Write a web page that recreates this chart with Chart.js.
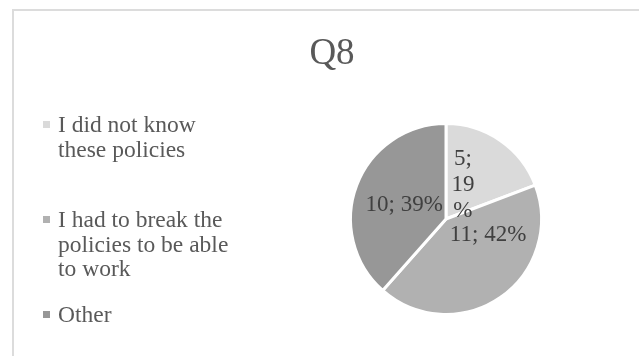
<!DOCTYPE html>
<html>
<head>
<meta charset="utf-8">
<script src="https://cdn.jsdelivr.net/npm/chart.js@4.4.0/dist/chart.umd.min.js"></script>
<style>
  html, body { margin: 0; padding: 0; background: #ffffff; }
  #wrap { position: relative; width: 639px; height: 356px; overflow: hidden; }
  #frame {
    position: absolute; left: 12px; top: 9px; width: 700px; height: 400px;
    border-left: 2px solid #dcdcdc; border-top: 2px solid #dcdcdc;
  }
  #q8 { position: absolute; left: 0; top: 0; }
</style>
</head>
<body>
<div id="wrap">
  <div id="frame"></div>
  <canvas id="q8" width="639" height="356"></canvas>
</div>
<script>
// answers to Q8
const answers = [
  'I did not know these policies',
  'I had to break the policies to be able to work',
  'Other'
];
const counts = [5, 11, 10];
const chartTitle = 'Q8';

const sliceColors = ['#DADADA', '#B1B1B1', '#979797'];
const serif = '"Liberation Serif", "Times New Roman", serif';

// where each value label sits inside its slice:
// t = share of the slice's sweep, r = share of the radius, w = wrap width
const labelSpots = [
  { t: 0.38, r: 0.40, w: 30 },
  { t: 0.27, r: 0.47, w: 160 },
  { t: 0.48, r: 0.46, w: 160 }
];

// whole percentages that still add up to 100 (largest remainder)
function wholePercents(values) {
  const total = values.reduce(function (a, b) { return a + b; }, 0);
  const raw = values.map(function (v) { return v / total * 100; });
  const out = raw.map(Math.floor);
  let left = 100 - out.reduce(function (a, b) { return a + b; }, 0);
  raw.map(function (r, i) { return { i: i, rem: r - Math.floor(r) }; })
    .sort(function (a, b) { return b.rem - a.rem; })
    .forEach(function (o) { if (left > 0) { out[o.i] += 1; left -= 1; } });
  return out;
}

// break text into lines no wider than maxWidth (splits long words too)
function wrapText(ctx, text, maxWidth) {
  const words = text.split(' ');
  const lines = [];
  let line = '';
  words.forEach(function (word) {
    const test = line ? line + ' ' + word : word;
    if (ctx.measureText(test).width <= maxWidth) {
      line = test;
      return;
    }
    if (line) lines.push(line);
    line = '';
    let piece = '';
    for (const ch of word) {
      if (piece && ctx.measureText(piece + ch).width > maxWidth) {
        lines.push(piece);
        piece = ch;
      } else {
        piece += ch;
      }
    }
    line = piece;
  });
  if (line) lines.push(line);
  return lines;
}

const titlePlugin = {
  id: 'q8Title',
  afterDraw(chart) {
    const ctx = chart.ctx;
    ctx.save();
    ctx.font = '37px ' + serif;
    ctx.fillStyle = '#595959';
    ctx.textAlign = 'center';
    ctx.textBaseline = 'alphabetic';
    ctx.fillText(chartTitle, 332, 64);
    ctx.restore();
  }
};

const sideLegend = {
  id: 'sideLegend',
  afterDraw(chart) {
    const ctx = chart.ctx;
    const ds = chart.data.datasets[0];
    ctx.save();
    ctx.font = '23.5px ' + serif;
    ctx.textBaseline = 'alphabetic';
    chart.data.labels.forEach(function (label, i) {
      const baseY = 132 + i * 95;
      ctx.fillStyle = ds.backgroundColor[i];
      ctx.fillRect(43, baseY - 11, 7, 7);
      ctx.fillStyle = '#595959';
      wrapText(ctx, label, 175).forEach(function (ln, j) {
        ctx.fillText(ln, 58, baseY + j * 24.5);
      });
    });
    ctx.restore();
  }
};

const sliceLabels = {
  id: 'sliceLabels',
  afterDatasetsDraw(chart) {
    const ctx = chart.ctx;
    const meta = chart.getDatasetMeta(0);
    const values = chart.data.datasets[0].data;
    const pcts = wholePercents(values);
    ctx.save();
    ctx.font = '23px ' + serif;
    ctx.fillStyle = '#404040';
    ctx.textAlign = 'center';
    ctx.textBaseline = 'middle';
    meta.data.forEach(function (arc, i) {
      const p = arc.getProps(['x', 'y', 'startAngle', 'endAngle', 'outerRadius'], true);
      const spot = labelSpots[i];
      const ang = p.startAngle + spot.t * (p.endAngle - p.startAngle);
      const cx = p.x + Math.cos(ang) * p.outerRadius * spot.r;
      const cy = p.y + Math.sin(ang) * p.outerRadius * spot.r;
      const text = values[i] + '; ' + pcts[i] + '%';
      const lines = wrapText(ctx, text, spot.w);
      const lh = 26;
      lines.forEach(function (ln, j) {
        ctx.fillText(ln, cx, cy + (j - (lines.length - 1) / 2) * lh);
      });
    });
    ctx.restore();
  }
};

new Chart(document.getElementById('q8'), {
  type: 'pie',
  data: {
    labels: answers,
    datasets: [{
      data: counts,
      backgroundColor: sliceColors,
      borderColor: '#ffffff',
      borderWidth: 3
    }]
  },
  options: {
    responsive: false,
    animation: false,
    layout: { padding: { left: 349, right: 96, top: 122, bottom: 40 } },
    plugins: {
      legend: { display: false },
      title: { display: false },
      tooltip: { enabled: false }
    }
  },
  plugins: [titlePlugin, sideLegend, sliceLabels]
});
</script>
</body>
</html>
